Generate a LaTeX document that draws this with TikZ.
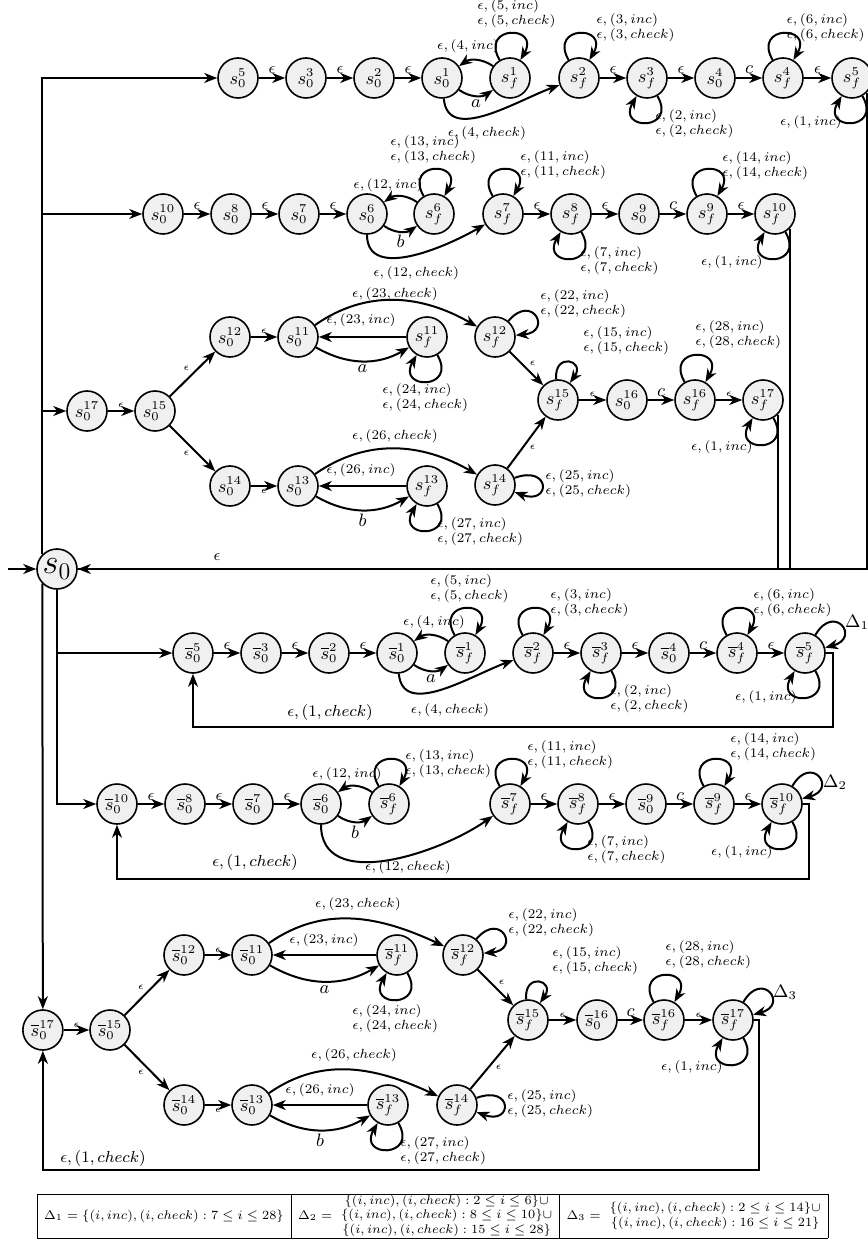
\documentclass[tikz,border=0pt]{standalone}
\usepackage{amsmath,amssymb,graphicx}
\usetikzlibrary{arrows.meta}
\begin{document}
\begin{tikzpicture}[x=0.5pt,y=0.5pt,
  st/.style={circle,draw,line width=0.8pt,fill=black!6,minimum size=20pt,inner sep=0pt,font=\small},
  ar/.style={-{Stealth[length=6.5pt,width=5pt,inset=2pt]},line width=1pt},
  ln/.style={line width=1pt},
  lb/.style={font=\scriptsize,align=left,inner sep=0pt,scale=0.95,transform shape},
  el/.style={font=\footnotesize,inner sep=1.5pt},
  tl/.style={font=\tiny,inner sep=1pt},
  sl/.style={font=\small,inner sep=1.5pt},
  lpa/.style={out=120,in=60,looseness=5},
  lpb/.style={out=-60,in=-120,looseness=5},
]
\useasboundingbox (0,0) rectangle (867,-1245);

% ================= Row 1
\node[st] (s05) at (238,-78) {$s_0^5$};
\node[st] (s03) at (306,-78) {$s_0^3$};
\node[st] (s02) at (374,-78) {$s_0^2$};
\node[st] (s01) at (442,-78) {$s_0^1$};
\node[st] (sf1) at (510,-78) {$s_f^1$};
\node[st] (sf2) at (579,-78) {$s_f^2$};
\node[st] (sf3) at (647,-78) {$s_f^3$};
\node[st] (s04) at (715,-78) {$s_0^4$};
\node[st] (sf4) at (783,-78) {$s_f^4$};
\node[st] (sf5) at (852,-78) {$s_f^5$};
\draw[ar] (s05) -- node[el,above]{$\epsilon$} (s03);
\draw[ar] (s03) -- node[el,above]{$\epsilon$} (s02);
\draw[ar] (s02) -- node[el,above]{$\epsilon$} (s01);
\draw[ar] (s01) to[bend right=35] node[sl,below]{$a$} (sf1);
\draw[ar] (sf1) to[bend right=35] (s01);
\node[lb] at (468,-46) {$\epsilon,(4,inc)$};
\draw[ar] (sf1) to[lpa] (sf1);
\node[lb,anchor=west] at (477,-14) {$\epsilon,(5,inc)$\\$\epsilon,(5,check)$};
\draw[ar] (s01) to[out=-85,in=200] (sf2);
\node[lb] at (487,-133) {$\epsilon,(4,check)$};
\draw[ar] (sf2) to[lpa] (sf2);
\node[lb,anchor=west] at (596,-28) {$\epsilon,(3,inc)$\\$\epsilon,(3,check)$};
\draw[ar] (sf2) -- node[el,above]{$\epsilon$} (sf3);
\draw[ar] (sf3) to[lpb] (sf3);
\node[lb,anchor=west] at (655,-124) {$\epsilon,(2,inc)$\\$\epsilon,(2,check)$};
\draw[ar] (sf3) -- node[el,above]{$\epsilon$} (s04);
\draw[ar] (s04) -- node[sl,above]{$c$} (sf4);
\draw[ar] (sf4) to[lpa] (sf4);
\node[lb,anchor=east] at (865,-28) {$\epsilon,(6,inc)$\phantom{$k)$}\\$\epsilon,(6,check)$};
\draw[ar] (sf4) -- node[el,above]{$\epsilon$} (sf5);
\draw[ar] (sf5) to[lpb] (sf5);
\node[lb,anchor=east] at (842,-122) {$\epsilon,(1,inc)$};

% ================= Row 2
\node[st] (s010) at (163,-214) {$s_0^{10}$};
\node[st] (s08) at (231,-214) {$s_0^8$};
\node[st] (s07) at (299,-214) {$s_0^7$};
\node[st] (s06) at (367,-214) {$s_0^6$};
\node[st] (sf6) at (434,-214) {$s_f^6$};
\node[st] (sf7) at (503,-214) {$s_f^7$};
\node[st] (sf8) at (571,-214) {$s_f^8$};
\node[st] (s09) at (639,-214) {$s_0^9$};
\node[st] (sf9) at (707,-214) {$s_f^9$};
\node[st] (sf10) at (775,-214) {$s_f^{10}$};
\draw[ar] (s010) -- node[el,above]{$\epsilon$} (s08);
\draw[ar] (s08) -- node[el,above]{$\epsilon$} (s07);
\draw[ar] (s07) -- node[el,above]{$\epsilon$} (s06);
\draw[ar] (s06) to[bend right=35] node[sl,below]{$b$} (sf6);
\draw[ar] (sf6) to[bend right=35] (s06);
\node[lb] at (388,-185) {$\epsilon,(12,inc)$};
\draw[ar] (sf6) to[lpa] (sf6);
\node[lb,anchor=west] at (390,-150) {$\epsilon,(13,inc)$\\$\epsilon,(13,check)$};
\draw[ar] (s06) to[out=-90,in=210] (sf7);
\node[lb,anchor=west] at (373,-273) {$\epsilon,(12,check)$};
\draw[ar] (sf7) to[lpa] (sf7);
\node[lb,anchor=west] at (520,-165) {$\epsilon,(11,inc)$\\$\epsilon,(11,check)$};
\draw[ar] (sf7) -- node[el,above]{$\epsilon$} (sf8);
\draw[ar] (sf8) to[lpb] (sf8);
\node[lb,anchor=west] at (580,-261) {$\epsilon,(7,inc)$\\$\epsilon,(7,check)$};
\draw[ar] (sf8) -- node[el,above]{$\epsilon$} (s09);
\draw[ar] (s09) -- node[sl,above]{$c$} (sf9);
\draw[ar] (sf9) to[lpa] (sf9);
\node[lb,anchor=west] at (722,-166) {$\epsilon,(14,inc)$\\$\epsilon,(14,check)$};
\draw[ar] (sf9) -- node[el,above]{$\epsilon$} (sf10);
\draw[ar] (sf10) to[lpb] (sf10);
\node[lb,anchor=east] at (763,-262) {$\epsilon,(1,inc)$};

% ================= Row 3
\node[st] (s017) at (87,-411) {$s_0^{17}$};
\node[st] (s015) at (155,-411) {$s_0^{15}$};
\node[st] (s012) at (230,-337) {$s_0^{12}$};
\node[st] (s011) at (298,-337) {$s_0^{11}$};
\node[st] (sf11) at (427,-337) {$s_f^{11}$};
\node[st] (s014) at (230,-486) {$s_0^{14}$};
\node[st] (s013) at (298,-486) {$s_0^{13}$};
\node[st] (sf13) at (427,-486) {$s_f^{13}$};
\node[st] (sf12) at (495,-337) {$s_f^{12}$};
\node[st] (sf14) at (495,-485) {$s_f^{14}$};
\node[st] (sf15) at (558,-400) {$s_f^{15}$};
\node[st] (s016) at (627,-400) {$s_0^{16}$};
\node[st] (sf16) at (695,-400) {$s_f^{16}$};
\node[st] (sf17) at (763,-400) {$s_f^{17}$};
\draw[ar] (s017) -- node[tl,above]{$\epsilon$} (s015);
\draw[ar] (s015) -- node[tl,above left]{$\epsilon$} (s012);
\draw[ar] (s015) -- node[tl,below left]{$\epsilon$} (s014);
\draw[ar] (s012) -- node[tl,above]{$\epsilon$} (s011);
\draw[ar] (s014) -- node[tl,below]{$\epsilon$} (s013);
\draw[ar] (sf11) -- (s011);
\node[lb] at (361,-320) {$\epsilon,(23,inc)$};
\draw[ar] (s011) to[bend right=30] node[sl,below]{$a$} (sf11);
\draw[ar] (s011) to[out=35,in=150] (sf12);
\node[lb] at (395,-294) {$\epsilon,(23,check)$};
\draw[ar] (sf11) to[lpb] (sf11);
\node[lb,anchor=west] at (382,-398) {$\epsilon,(24,inc)$\\$\epsilon,(24,check)$};
\draw[ar] (sf12) to[out=50,in=5,looseness=6] (sf12);
\node[lb,anchor=west] at (540,-304) {$\epsilon,(22,inc)$\\$\epsilon,(22,check)$};
\draw[ar] (sf12) -- node[tl,above right]{$\epsilon$} (sf15);
\draw[ar] (s013) to[out=35,in=150] (sf14);
\node[lb] at (395,-436) {$\epsilon,(26,check)$};
\draw[ar] (sf13) -- (s013);
\node[lb] at (361,-470) {$\epsilon,(26,inc)$};
\draw[ar] (s013) to[bend right=30] node[sl,below]{$b$} (sf13);
\draw[ar] (sf13) to[lpb] (sf13);
\node[lb,anchor=west] at (437,-532) {$\epsilon,(27,inc)$\\$\epsilon,(27,check)$};
\draw[ar] (sf14) to[out=20,in=-20,looseness=7] (sf14);
\node[lb,anchor=west] at (545,-484) {$\epsilon,(25,inc)$\\$\epsilon,(25,check)$};
\draw[ar] (sf14) -- node[tl,below right]{$\epsilon$} (sf15);
\draw[ar] (sf15) to[out=95,in=55,looseness=5] (sf15);
\node[lb,anchor=west] at (583,-341) {$\epsilon,(15,inc)$\\$\epsilon,(15,check)$};
\draw[ar] (sf15) -- node[tl,above]{$\epsilon$} (s016);
\draw[ar] (s016) -- node[sl,above]{$c$} (sf16);
\draw[ar] (sf16) to[lpa] (sf16);
\node[lb,anchor=west] at (695,-335) {$\epsilon,(28,inc)$\\$\epsilon,(28,check)$};
\draw[ar] (sf16) -- node[tl,above]{$\epsilon$} (sf17);
\draw[ar] (sf17) to[lpb] (sf17);
\node[lb,anchor=east] at (753,-447) {$\epsilon,(1,inc)$};

% ================= s0
\node[st,font=\LARGE] (s0) at (57,-569) {$s_0$};
\coordinate (in0) at (8,-569);
\draw[ar] (in0) -- (s0);
\draw[ar] (s0.north west) |- (s05);
\draw[ar] (s0.north west) |- (s010);
\draw[ar] (s0.north west) |- (s017);
\draw[ar] (sf5.south east) |- (s0);
\draw[ln] (sf10.south east) |- (s0.east);
\draw[ln] (sf17.south east) |- (s0.east);
\node[el] at (217,-557) {$\epsilon$};

% ================= Row 4
\node[st] (sb05) at (193,-653) {$\overline{s}_0^5$};
\node[st] (sb03) at (261,-653) {$\overline{s}_0^3$};
\node[st] (sb02) at (329,-653) {$\overline{s}_0^2$};
\node[st] (sb01) at (397,-653) {$\overline{s}_0^1$};
\node[st] (sbf1) at (465,-653) {$\overline{s}_f^1$};
\node[st] (sbf2) at (533,-653) {$\overline{s}_f^2$};
\node[st] (sbf3) at (601,-653) {$\overline{s}_f^3$};
\node[st] (sb04) at (669,-653) {$\overline{s}_0^4$};
\node[st] (sbf4) at (737,-653) {$\overline{s}_f^4$};
\node[st] (sbf5) at (805,-653) {$\overline{s}_f^5$};
\draw[ar] (s0.south) |- (sb05);
\draw[ar] (sb05) -- node[el,above]{$\epsilon$} (sb03);
\draw[ar] (sb03) -- node[el,above]{$\epsilon$} (sb02);
\draw[ar] (sb02) -- node[el,above]{$\epsilon$} (sb01);
\draw[ar] (sb01) to[bend right=35] node[sl,below]{$a$} (sbf1);
\draw[ar] (sbf1) to[bend right=35] (sb01);
\node[lb] at (434,-622) {$\epsilon,(4,inc)$};
\draw[ar] (sbf1) to[lpa] (sbf1);
\node[lb,anchor=west] at (430,-589) {$\epsilon,(5,inc)$\\$\epsilon,(5,check)$};
\draw[ar] (sb01) to[out=-85,in=200] (sbf2);
\node[lb] at (450,-710) {$\epsilon,(4,check)$};
\draw[ar] (sbf2) to[lpa] (sbf2);
\node[lb,anchor=west] at (550,-603) {$\epsilon,(3,inc)$\\$\epsilon,(3,check)$};
\draw[ar] (sbf2) -- node[el,above]{$\epsilon$} (sbf3);
\draw[ar] (sbf3) to[lpb] (sbf3);
\node[lb,anchor=west] at (610,-699) {$\epsilon,(2,inc)$\\$\epsilon,(2,check)$};
\draw[ar] (sbf3) -- node[el,above]{$\epsilon$} (sb04);
\draw[ar] (sb04) -- node[sl,above]{$c$} (sbf4);
\draw[ar] (sbf4) to[lpa] (sbf4);
\node[lb,anchor=west] at (753,-603) {$\epsilon,(6,inc)$\\$\epsilon,(6,check)$};
\draw[ar] (sbf4) -- node[el,above]{$\epsilon$} (sbf5);
\draw[ar] (sbf5) to[out=60,in=15,looseness=6] (sbf5);
\node[font=\small] at (857,-622) {$\Delta_1$};
\draw[ar] (sbf5) to[lpb] (sbf5);
\node[lb,anchor=east] at (797,-697) {$\epsilon,(1,inc)$};
\coordinate (c4) at (833,-727);
\draw[ar] (sbf5.east) -| (c4) -| (sb05.south);
\node[el] at (330,-712) {$\epsilon,(1,check)$};

% ================= Row 5
\node[st] (sb010) at (117,-804) {$\overline{s}_0^{10}$};
\node[st] (sb08) at (185,-804) {$\overline{s}_0^8$};
\node[st] (sb07) at (253,-804) {$\overline{s}_0^7$};
\node[st] (sb06) at (321,-804) {$\overline{s}_0^6$};
\node[st] (sbf6) at (389,-804) {$\overline{s}_f^6$};
\node[st] (sbf7) at (510,-804) {$\overline{s}_f^7$};
\node[st] (sbf8) at (578,-804) {$\overline{s}_f^8$};
\node[st] (sb09) at (646,-804) {$\overline{s}_0^9$};
\node[st] (sbf9) at (714,-804) {$\overline{s}_f^9$};
\node[st] (sbf10) at (782,-804) {$\overline{s}_f^{10}$};
\draw[ar] (s0.south) |- (sb010);
\draw[ar] (sb010) -- node[el,above]{$\epsilon$} (sb08);
\draw[ar] (sb08) -- node[el,above]{$\epsilon$} (sb07);
\draw[ar] (sb07) -- node[el,above]{$\epsilon$} (sb06);
\draw[ar] (sb06) to[bend right=35] node[sl,below]{$b$} (sbf6);
\draw[ar] (sbf6) to[bend right=35] (sb06);
\node[lb] at (347,-774) {$\epsilon,(12,inc)$};
\draw[ar] (sbf6) to[lpa] (sbf6);
\node[lb,anchor=west] at (405,-764) {$\epsilon,(13,inc)$\\$\epsilon,(13,check)$};
\draw[ar] (sb06) to[out=-90,in=215] (sbf7);
\node[lb] at (408,-867) {$\epsilon,(12,check)$};
\draw[ar] (sbf7) to[lpa] (sbf7);
\node[lb,anchor=west] at (527,-755) {$\epsilon,(11,inc)$\\$\epsilon,(11,check)$};
\draw[ar] (sbf7) -- node[el,above]{$\epsilon$} (sbf8);
\draw[ar] (sbf8) to[lpb] (sbf8);
\node[lb,anchor=west] at (587,-850) {$\epsilon,(7,inc)$\\$\epsilon,(7,check)$};
\draw[ar] (sbf8) -- node[el,above]{$\epsilon$} (sb09);
\draw[ar] (sb09) -- node[sl,above]{$c$} (sbf9);
\draw[ar] (sbf9) to[lpa] (sbf9);
\node[lb,anchor=west] at (730,-747) {$\epsilon,(14,inc)$\\$\epsilon,(14,check)$};
\draw[ar] (sbf9) -- node[el,above]{$\epsilon$} (sbf10);
\draw[ar] (sbf10) to[out=60,in=15,looseness=6] (sbf10);
\node[font=\small] at (835,-782) {$\Delta_2$};
\draw[ar] (sbf10) to[lpb] (sbf10);
\node[lb,anchor=east] at (773,-852) {$\epsilon,(1,inc)$};
\coordinate (c5) at (809,-879);
\draw[ar] (sbf10.east) -| (c5) -| (sb010.south);
\node[el] at (255,-862) {$\epsilon,(1,check)$};

% ================= Row 6
\node[st] (sb017) at (42.86,-1030) {$\overline{s}_0^{17}$};
\node[st] (sb015) at (110,-1030) {$\overline{s}_0^{15}$};
\node[st] (sb012) at (184,-955) {$\overline{s}_0^{12}$};
\node[st] (sb011) at (252,-955) {$\overline{s}_0^{11}$};
\node[st] (sbf11) at (397,-955) {$\overline{s}_f^{11}$};
\node[st] (sb014) at (184,-1105) {$\overline{s}_0^{14}$};
\node[st] (sb013) at (252,-1105) {$\overline{s}_0^{13}$};
\node[st] (sbf13) at (388,-1105) {$\overline{s}_f^{13}$};
\node[st] (sbf12) at (463,-955) {$\overline{s}_f^{12}$};
\node[st] (sbf14) at (457,-1105) {$\overline{s}_f^{14}$};
\node[st] (sbf15) at (528,-1020) {$\overline{s}_f^{15}$};
\node[st] (sb016) at (597,-1020) {$\overline{s}_0^{16}$};
\node[st] (sbf16) at (664,-1020) {$\overline{s}_f^{16}$};
\node[st] (sbf17) at (733,-1020) {$\overline{s}_f^{17}$};
\draw[ar] (s0.south west) -- (sb017);
\draw[ar] (sb017) -- node[tl,above]{$\epsilon$} (sb015);
\draw[ar] (sb015) -- node[tl,above left]{$\epsilon$} (sb012);
\draw[ar] (sb015) -- node[tl,below left]{$\epsilon$} (sb014);
\draw[ar] (sb012) -- node[tl,above]{$\epsilon$} (sb011);
\draw[ar] (sb014) -- node[tl,below]{$\epsilon$} (sb013);
\draw[ar] (sbf11) -- (sb011);
\node[lb] at (324,-940) {$\epsilon,(23,inc)$};
\draw[ar] (sb011) to[bend right=30] node[sl,below]{$a$} (sbf11);
\draw[ar] (sb011) to[out=35,in=155] (sbf12);
\node[lb] at (358,-904) {$\epsilon,(23,check)$};
\draw[ar] (sbf11) to[lpb] (sbf11);
\node[lb,anchor=west] at (352,-1019) {$\epsilon,(24,inc)$\\$\epsilon,(24,check)$};
\draw[ar] (sbf12) to[out=50,in=5,looseness=6] (sbf12);
\node[lb,anchor=west] at (508,-923) {$\epsilon,(22,inc)$\\$\epsilon,(22,check)$};
\draw[ar] (sbf12) -- node[tl,above right]{$\epsilon$} (sbf15);
\draw[ar] (sb013) to[out=35,in=155] (sbf14);
\node[lb] at (354,-1055) {$\epsilon,(26,check)$};
\draw[ar] (sbf13) -- (sb013);
\node[lb] at (320,-1090) {$\epsilon,(26,inc)$};
\draw[ar] (sb013) to[bend right=30] node[sl,below]{$b$} (sbf13);
\draw[ar] (sbf13) to[lpb] (sbf13);
\node[lb,anchor=west] at (400,-1151) {$\epsilon,(27,inc)$\\$\epsilon,(27,check)$};
\draw[ar] (sbf14) to[out=20,in=-20,looseness=7] (sbf14);
\node[lb,anchor=west] at (507,-1104) {$\epsilon,(25,inc)$\\$\epsilon,(25,check)$};
\draw[ar] (sbf14) -- node[tl,below right]{$\epsilon$} (sbf15);
\draw[ar] (sbf15) to[out=95,in=55,looseness=5] (sbf15);
\node[lb,anchor=west] at (552,-961) {$\epsilon,(15,inc)$\\$\epsilon,(15,check)$};
\draw[ar] (sbf15) -- node[tl,above]{$\epsilon$} (sb016);
\draw[ar] (sb016) -- node[sl,above]{$c$} (sbf16);
\draw[ar] (sbf16) to[lpa] (sbf16);
\node[lb,anchor=west] at (665,-955) {$\epsilon,(28,inc)$\\$\epsilon,(28,check)$};
\draw[ar] (sbf16) -- node[tl,above]{$\epsilon$} (sbf17);
\draw[ar] (sbf17) to[out=60,in=15,looseness=6] (sbf17);
\node[font=\small] at (785,-992) {$\Delta_3$};
\draw[ar] (sbf17) to[lpb] (sbf17);
\node[lb,anchor=east] at (723,-1067) {$\epsilon,(1,inc)$};
\coordinate (c6) at (759,-1170);
\draw[ar] (sbf17.east) -| (c6) -| (sb017.south);
\node[el] at (103,-1158) {$\epsilon,(1,check)$};

% ================= Table
\node[inner sep=0pt] (tbl) at (432.5,-1216) {\resizebox{395.5pt}{!}{\scriptsize\setlength{\tabcolsep}{4pt}%
\begin{tabular}{|c|c|c|}\hline
$\Delta_1=\{(i,inc),(i,check):7\leq i\leq 28\}$ &
$\Delta_2=\ \begin{array}{@{}c@{}}\{(i,inc),(i,check):2\leq i\leq 6\}\cup\\\{(i,inc),(i,check):8\leq i\leq 10\}\cup\\\{(i,inc),(i,check):15\leq i\leq 28\}\end{array}$ &
$\Delta_3=\ \begin{array}{@{}c@{}}\{(i,inc),(i,check):2\leq i\leq 14\}\cup\\\{(i,inc),(i,check):16\leq i\leq 21\}\end{array}$\\\hline
\end{tabular}}};
\end{tikzpicture}
\end{document}
